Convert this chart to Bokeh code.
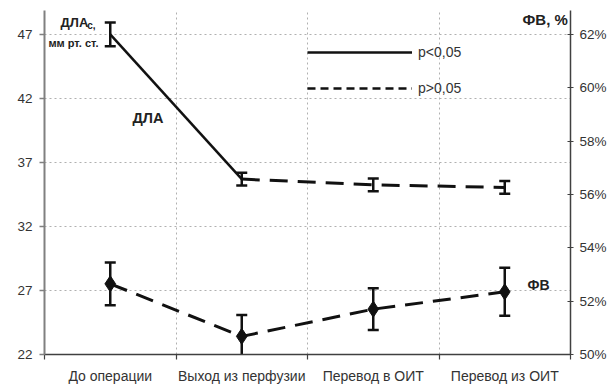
from bokeh.plotting import figure
from bokeh.models import (Range1d, LinearAxis, FixedTicker, Whisker, ColumnDataSource,
                          Label, Legend, LegendItem, CustomJSTickFormatter, TeeHead,
                          PrintfTickFormatter)
from bokeh.embed import file_html
from bokeh.resources import INLINE

categories = ["До операции", "Выход из перфузии", "Перевод в ОИТ", "Перевод из ОИТ"]
dla = [47.0, 35.7, 35.25, 35.05]
dla_err = [0.93, 0.5, 0.5, 0.5]
fv = [52.65, 50.68, 51.7, 52.35]
fv_err = [0.8, 0.8, 0.78, 0.9]
left_ticks = [22, 27, 32, 37, 42, 47]
right_ticks = [50, 52, 54, 56, 58, 60, 62]
legend_labels = ["p<0,05", "p>0,05"]

FONT = "Liberation Sans"
NAN = float("nan")
xs = [i + 0.5 for i in range(len(categories))]

p = figure(width=614, height=386, x_range=Range1d(0, len(categories)),
           y_range=Range1d(22, 48.87), output_backend="svg", toolbar_location=None,
           min_border_left=44, min_border_right=44, min_border_top=10, min_border_bottom=31)
p.extra_y_ranges = {"fv": Range1d(50, 62.9)}
p.outline_line_color = None
p.background_fill_color = "white"

# x axis
xa = p.xaxis[0]
xa.ticker = FixedTicker(ticks=xs, minor_ticks=list(range(len(categories) + 1)))
xa.formatter = CustomJSTickFormatter(args=dict(cats=categories),
                                     code="return cats[Math.floor(tick)] || '';")
xa.major_tick_line_color = None
xa.minor_tick_in = 0
xa.minor_tick_out = 5
xa.minor_tick_line_color = "#404040"
xa.minor_tick_line_width = 1.2
xa.axis_line_color = "#404040"
xa.axis_line_width = 1.5
xa.major_label_standoff = 7
xa.major_label_text_font = FONT
xa.major_label_text_font_size = "14px"
xa.major_label_text_color = "#333333"

# left axis
ya = p.yaxis[0]
ya.ticker = FixedTicker(ticks=left_ticks)
ya.minor_tick_line_color = None
ya.major_tick_in = 0
ya.major_tick_out = 5
ya.major_tick_line_color = "#808080"
ya.major_tick_line_width = 1.5
ya.axis_line_color = "#808080"
ya.axis_line_width = 2
ya.major_label_standoff = 7
ya.major_label_text_font = FONT
ya.major_label_text_font_size = "13.5px"
ya.major_label_text_color = "#333333"

# right axis
ra = LinearAxis(y_range_name="fv", ticker=FixedTicker(ticks=right_ticks),
                formatter=PrintfTickFormatter(format="%d%%"))
ra.minor_tick_line_color = None
ra.major_tick_in = 3
ra.major_tick_out = 3
ra.major_tick_line_color = "#404040"
ra.major_tick_line_width = 1.2
ra.axis_line_color = "#404040"
ra.axis_line_width = 1.5
ra.major_label_standoff = 6
ra.major_label_text_font = FONT
ra.major_label_text_font_size = "13.5px"
ra.major_label_text_color = "#333333"
p.add_layout(ra, "right")

# grids
p.xgrid.ticker = FixedTicker(ticks=list(range(1, len(categories))))
p.xgrid.grid_line_color = "#b0b0b0"
p.xgrid.grid_line_dash = "2 3"
p.ygrid.ticker = FixedTicker(ticks=left_ticks[1:])
p.ygrid.grid_line_color = "#b0b0b0"
p.ygrid.grid_line_dash = "2 3"

# ДЛА
p.line(xs[:2], dla[:2], line_width=2.5, color="#111111")
p.line(xs[1:], dla[1:], line_width=3, color="#111111", line_dash="18 10")
src_dla = ColumnDataSource(dict(x=xs,
                                lower=[d - e for d, e in zip(dla, dla_err)],
                                upper=[d + e for d, e in zip(dla, dla_err)]))
p.add_layout(Whisker(base="x", lower="lower", upper="upper", source=src_dla,
                     line_width=2.5, line_color="#111111",
                     upper_head=TeeHead(size=11, line_width=2.5, line_color="#111111"),
                     lower_head=TeeHead(size=11, line_width=2.5, line_color="#111111")))

# ФВ
p.line(xs, fv, y_range_name="fv", line_width=3, color="#111111", line_dash="18 10")
src_fv = ColumnDataSource(dict(x=xs,
                               lower=[d - e for d, e in zip(fv, fv_err)],
                               upper=[d + e for d, e in zip(fv, fv_err)]))
p.add_layout(Whisker(base="x", lower="lower", upper="upper", source=src_fv,
                     y_range_name="fv", line_width=2.5, line_color="#111111",
                     upper_head=TeeHead(size=11, line_width=2.5, line_color="#111111"),
                     lower_head=TeeHead(size=11, line_width=2.5, line_color="#111111")))
p.scatter(xs, fv, y_range_name="fv", marker="diamond", size=16, color="#111111")

# legend (sample renderers hold no visible data)
r1 = p.line([NAN], [NAN], line_width=2.5, color="#111111")
r2 = p.line([NAN], [NAN], line_width=2.5, color="#111111", line_dash="8 5")
legend = Legend(items=[LegendItem(label=legend_labels[0], renderers=[r1]),
                       LegendItem(label=legend_labels[1], renderers=[r2])],
                location=(263, 256), glyph_width=105, glyph_height=20, spacing=16,
                padding=0, margin=0, border_line_color=None, background_fill_alpha=0,
                label_standoff=6, label_text_font=FONT, label_text_font_size="14px",
                label_text_color="#333333")
p.add_layout(legend)

def lab(x, y, text, size, bold=True):
    p.add_layout(Label(x=x, y=y, text=text, text_font=FONT, text_font_size=size,
                       text_font_style="bold" if bold else "normal",
                       text_baseline="middle", text_align="left", text_color="#222222"))

lab(0.122, 47.93, "ДЛА", "13px")
lab(0.325, 47.72, "с,", "10px")
lab(0.03, 46.34, "мм рт. ст.", "11px")
lab(0.669, 40.5, "ДЛА", "14.5px")
lab(3.635, 48.2, "ФВ, %", "15px")
lab(3.673, 27.44, "ФВ", "14px")

open("out.html", "w").write(file_html(p, INLINE))
